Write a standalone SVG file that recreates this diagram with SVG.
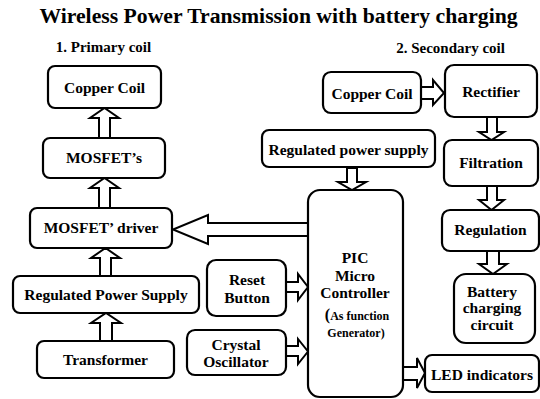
<svg xmlns="http://www.w3.org/2000/svg" width="540" height="399" viewBox="0 0 540 399" font-family="'Liberation Serif', 'Times New Roman', serif" font-weight="bold">
<style>
.box{fill:#fff;stroke:#000;stroke-width:2.2}
.arr{fill:#fff;stroke:#000;stroke-width:2;stroke-linejoin:miter}
.t,.h,.s,.ttl{font-family:"Liberation Serif","Times New Roman",serif;font-weight:bold;fill:#000;text-anchor:middle}
.t{font-size:15.5px}
.h{font-size:15px}
.s{font-size:12px}
.ttl{font-size:21.7px}
</style>
<rect width="540" height="399" fill="#fff"/>
<text class="ttl" x="278.5" y="23">Wireless Power Transmission with battery charging</text>
<text class="h" x="103.5" y="52">1. Primary coil</text>
<text class="h" x="450.5" y="53">2. Secondary coil</text>

<g id="connectors">
<polygon class="arr" points="99,138 99,118 90,118 104.5,108 119,118 110,118 110,138"/>
<polygon class="arr" points="99,208 99,188 90,188 104.5,178 119,188 110,188 110,208"/>
<polygon class="arr" points="100,276 100,258 91,258 105.5,248 120,258 111,258 111,276"/>
<polygon class="arr" points="100,341 100,323 91,323 106,313 121,323 112,323 112,341"/>
<polygon class="arr" points="308,223 208,223 208,215 173,229.5 208,244 208,236 308,236"/>
<polygon class="arr" points="347,168 347,182 338,182 352,190 366,182 357,182 357,168"/>
<polygon class="arr" points="286,282 298,282 298,274 308,287 298,300 298,292 286,292"/>
<polygon class="arr" points="286,346 298,346 298,339 308,351.5 298,364 298,356 286,356"/>
<polygon class="arr" points="403,367 417,367 417,358 425,373 417,388 417,380 403,380"/>
<polygon class="arr" points="421,87 433,87 433,80 444,93 433,105 433,99 421,99"/>
<polygon class="arr" points="487,117 487,132 479,132 491.5,140 504,132 497,132 497,117"/>
<polygon class="arr" points="487,186 487,200 479,200 491.5,210 504,200 497,200 497,186"/>
<polygon class="arr" points="487,251 487,264 479,264 493,274 507,264 499,264 499,251"/>
</g>

<g id="copper1"><rect class="box" x="48" y="66" width="113" height="42" rx="7"/><text class="t" x="104.5" y="93">Copper Coil</text></g>
<g id="mosfets"><rect class="box" x="43" y="138" width="122" height="40" rx="7"/><text class="t" x="104" y="163">MOSFET’s</text></g>
<g id="driver"><rect class="box" x="30" y="208" width="142" height="40" rx="7"/><text class="t" x="101" y="233">MOSFET’ driver</text></g>
<g id="rps"><rect class="box" x="13" y="276" width="186" height="37" rx="7"/><text class="t" x="106" y="300">Regulated Power Supply</text></g>
<g id="transformer"><rect class="box" x="37" y="341" width="137" height="37" rx="7"/><text class="t" x="105.5" y="365">Transformer</text></g>

<g id="reset"><rect class="box" x="207" y="260" width="79" height="56" rx="9"/><text class="t" x="247" y="285">Reset</text><text class="t" x="247" y="303">Button</text></g>
<g id="crystal"><rect class="box" x="187" y="330" width="99" height="45" rx="8"/><text class="t" x="236" y="350">Crystal</text><text class="t" x="236" y="367">Oscillator</text></g>

<g id="pic"><rect class="box" x="308" y="190" width="95" height="207" rx="12"/>
<text class="t" x="355" y="263">PIC</text>
<text class="t" x="355" y="281">Micro</text>
<text class="t" x="355" y="298">Controller</text>
<text class="s" x="357" y="320"><tspan style="font-size:16px">(</tspan>As function</text>
<text class="s" x="356" y="337">Generator)</text></g>

<g id="rps2"><rect class="box" x="262" y="130" width="173" height="37" rx="7"/><text class="t" x="348.5" y="155">Regulated power supply</text></g>
<g id="copper2"><rect class="box" x="323" y="72" width="98" height="41" rx="8"/><text class="t" x="372" y="99">Copper Coil</text></g>
<g id="rectifier"><rect class="box" x="445" y="65" width="92" height="52" rx="9"/><text class="t" x="491" y="97">Rectifier</text></g>
<g id="filtration"><rect class="box" x="444" y="140" width="94" height="46" rx="8"/><text class="t" x="491" y="168">Filtration</text></g>
<g id="regulation"><rect class="box" x="442" y="210" width="97" height="41" rx="8"/><text class="t" x="490.5" y="235">Regulation</text></g>
<g id="battery"><rect class="box" x="454" y="274" width="81" height="69" rx="12"/><text class="t" x="492" y="297">Battery</text><text class="t" x="492" y="313">charging</text><text class="t" x="492" y="330">circuit</text></g>
<g id="led"><rect class="box" x="425" y="355" width="114" height="37" rx="7"/><text class="t" x="482" y="380">LED indicators</text></g>
</svg>
